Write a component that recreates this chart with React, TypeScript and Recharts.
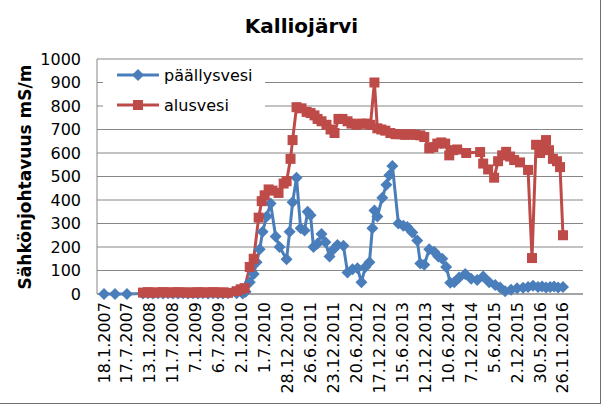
import React from 'react';
import { LineChart, Line, XAxis, YAxis, CartesianGrid } from 'recharts';

// tick labels of the date axis (every 180 days)
const xTickLabels = [
  '18.1.2007', '17.7.2007', '13.1.2008', '11.7.2008', '7.1.2009', '6.7.2009', '2.1.2010',
  '1.7.2010', '28.12.2010', '26.6.2011', '23.12.2011', '20.6.2012', '17.12.2012', '15.6.2013',
  '12.12.2013', '10.6.2014', '7.12.2014', '5.6.2015', '2.12.2015', '30.5.2016', '26.11.2016',
];
const yTicks = [0, 100, 200, 300, 400, 500, 600, 700, 800, 900, 1000];

// päällysvesi (surface water)
const surfaceDates = [
  '18.1.2007', '14.4.2007', '17.7.2007',
  '20.11.2007', '29.12.2007', '6.2.2008', '17.3.2008', '25.4.2008', '3.6.2008', '12.7.2008', '20.8.2008', '29.9.2008',
  '7.11.2008', '16.12.2008', '24.1.2009', '4.3.2009', '13.4.2009', '22.5.2009', '30.6.2009', '8.8.2009', '17.9.2009',
  '23.11.2009', '10.1.2010', '2.2.2010', '6.3.2010', '6.4.2010', '29.4.2010', '23.5.2010', '15.6.2010', '17.7.2010',
  '17.8.2010', '25.9.2010', '26.10.2010', '20.12.2010', '13.1.2011', '5.2.2011', '8.3.2011', '9.4.2011', '10.5.2011',
  '3.6.2011', '26.6.2011', '19.7.2011', '20.8.2011', '20.9.2011', '21.10.2011', '22.11.2011', '23.12.2011', '23.1.2012',
  '10.3.2012', '11.4.2012', '20.5.2012', '28.6.2012', '29.7.2012', '29.8.2012', '30.9.2012', '23.10.2012', '8.11.2012',
  '1.12.2012', '9.1.2013', '10.2.2013', '5.3.2013', '29.3.2013', '15.5.2013', '23.6.2013', '24.7.2013', '1.9.2013',
  '10.10.2013', '3.11.2013', '4.12.2013', '12.1.2014', '20.2.2014', '24.3.2014', '24.4.2014', '25.5.2014', '26.6.2014',
  '27.7.2014', '4.9.2014', '21.10.2014', '7.12.2014', '23.1.2015', '11.3.2015', '27.4.2015', '13.6.2015', '22.7.2015',
  '30.8.2015', '16.10.2015', '2.12.2015', '18.1.2016', '26.2.2016', '5.4.2016', '14.5.2016', '15.6.2016', '16.7.2016',
  '17.8.2016', '17.9.2016', '19.10.2016', '26.11.2016',
];
const surfaceValues = [
  0, 0, 0,
  2, 3, 2, 3, 2, 3, 2, 2, 3,
  2, 3, 2, 3, 2, 3, 2, 2, 3,
  3, 2, 10, 50, 85, 135, 190, 265, 330,
  385, 245, 200, 148, 265, 390, 495, 280, 270,
  350, 335, 200, 215, 255, 220, 160, 190, 208,
  205, 92, 105, 110, 50, 115, 135, 280, 355,
  330, 410, 465, 505, 545, 300, 290, 285, 262,
  228, 130, 125, 190, 180, 160, 150, 115, 48,
  50, 70, 85, 65, 60, 75, 50, 38, 28,
  12, 18, 25, 27, 30, 35, 30, 32, 28,
  30, 32, 28, 30,
];

// alusvesi (bottom water)
const bottomDates = [
  '20.11.2007', '29.12.2007', '6.2.2008', '17.3.2008', '25.4.2008', '3.6.2008', '12.7.2008', '20.8.2008', '29.9.2008',
  '7.11.2008', '16.12.2008', '24.1.2009', '4.3.2009', '13.4.2009', '22.5.2009', '30.6.2009', '8.8.2009', '17.9.2009',
  '23.11.2009', '25.12.2009', '25.1.2010', '6.3.2010', '6.4.2010', '15.5.2010', '8.6.2010', '1.7.2010', '1.8.2010',
  '1.9.2010', '18.10.2010', '27.11.2010', '20.12.2010', '20.1.2011', '5.2.2011', '8.3.2011', '16.4.2011', '26.5.2011',
  '26.6.2011', '27.7.2011', '20.8.2011', '20.9.2011', '29.10.2011', '30.11.2011', '31.12.2011', '31.1.2012', '2.3.2012',
  '11.4.2012', '12.5.2012', '20.6.2012', '29.7.2012', '6.9.2012', '8.10.2012', '8.11.2012', '1.12.2012', '1.1.2013',
  '2.2.2013', '13.3.2013', '22.4.2013', '31.5.2013', '8.7.2013', '17.8.2013', '25.9.2013', '3.11.2013', '4.12.2013',
  '12.1.2014', '13.2.2014', '16.3.2014', '16.4.2014', '17.5.2014', '18.6.2014', '19.7.2014', '19.8.2014', '29.10.2014',
  '15.2.2015', '11.3.2015', '19.4.2015', '5.6.2015', '6.7.2015', '7.8.2015', '7.9.2015', '8.10.2015', '9.11.2015',
  '25.12.2015', '26.2.2016', '28.3.2016', '29.4.2016', '30.5.2016', '22.6.2016', '16.7.2016', '8.8.2016', '8.9.2016',
  '10.10.2016', '3.11.2016', '26.11.2016',
];
const bottomValues = [
  6, 8, 5, 7, 8, 6, 7, 8, 6,
  7, 5, 8, 6, 7, 8, 6, 7, 5,
  12, 20, 25, 115, 150, 325, 395, 420, 445,
  440, 430, 470, 480, 575, 655, 795, 790, 775,
  770, 760, 745, 735, 720, 700, 685, 745, 745,
  735, 725, 720, 725, 725, 720, 900, 705, 700,
  695, 685, 680, 680, 677, 680, 677, 675, 668,
  620, 625, 640, 645, 640, 590, 612, 615, 600,
  604, 555, 530, 495, 565, 590, 605, 585, 570,
  560, 528, 153, 635, 600, 620, 655, 612, 575,
  565, 540, 250,
];

const DAY = 86400000;
const BLUE = '#4A7EBB';
const RED = '#BE4B48';
const FONT = 'DejaVu Sans, Verdana, sans-serif';

const toTime = (s: string) => {
  const [d, m, y] = s.split('.').map(Number);
  return Date.UTC(y, m - 1, d);
};
const fmtDate = (t: number) => {
  const d = new Date(t);
  return `${d.getUTCDate()}.${d.getUTCMonth() + 1}.${d.getUTCFullYear()}`;
};

const tickTimes = xTickLabels.map(toTime);
const xMin = tickTimes[0] - 55 * DAY;
const xMax = tickTimes[0] + 3757 * DAY;

// merge both series on one time axis
const rowMap: Record<number, { t: number; surface?: number; bottom?: number }> = {};
surfaceDates.forEach((s, i) => {
  const t = toTime(s);
  rowMap[t] = { ...(rowMap[t] || { t }), surface: surfaceValues[i] };
});
bottomDates.forEach((s, i) => {
  const t = toTime(s);
  rowMap[t] = { ...(rowMap[t] || { t }), bottom: bottomValues[i] };
});
const rows = Object.values(rowMap).sort((a, b) => a.t - b.t);

const Diamond = (props: any) => {
  const { cx, cy, value, index } = props;
  if (value == null || cy == null) return <g key={`d${index}`} />;
  const r = 6;
  return (
    <polygon key={`d${index}`} points={`${cx},${cy - r} ${cx + r},${cy} ${cx},${cy + r} ${cx - r},${cy}`} fill={BLUE} />
  );
};

const Square = (props: any) => {
  const { cx, cy, value, index } = props;
  if (value == null || cy == null) return <g key={`s${index}`} />;
  return <rect key={`s${index}`} x={cx - 5} y={cy - 5} width={10} height={10} fill={RED} />;
};

const DateTick = (props: any) => {
  const { x, y, payload } = props;
  return (
    <text
      x={x}
      y={y}
      transform={`rotate(-90 ${x} ${y})`}
      textAnchor="end"
      dx={-2}
      dy={5.5}
      fontSize={16}
      fontFamily={FONT}
      fill="#000"
    >
      {fmtDate(payload.value)}
    </text>
  );
};

export default function App() {
  return (
    <div style={{ position: 'absolute', left: 0, top: 0, width: 603, height: 406, background: '#fff', fontFamily: FONT }}>
      <LineChart width={603} height={406} data={rows} margin={{ top: 59, right: 20, bottom: 0, left: 0 }}>
        <CartesianGrid vertical={false} stroke="#868686" />
        <XAxis
          type="number"
          dataKey="t"
          domain={[xMin, xMax]}
          ticks={tickTimes}
          interval={0}
          tick={<DateTick />}
          tickLine={false}
          tickSize={0}
          tickMargin={6}
          axisLine={{ stroke: '#868686' }}
          height={112}
          allowDataOverflow
        />
        <YAxis
          domain={[0, 1000]}
          ticks={yTicks}
          interval={0}
          width={97}
          tickLine={false}
          tickSize={0}
          tickMargin={16}
          axisLine={{ stroke: '#868686' }}
          tick={{ fill: '#000', fontSize: 16, fontFamily: FONT }}
        />
        <Line
          dataKey="surface"
          stroke={BLUE}
          strokeWidth={3}
          connectNulls
          dot={Diamond}
          activeDot={false}
          isAnimationActive={false}
        />
        <Line
          dataKey="bottom"
          stroke={RED}
          strokeWidth={3}
          connectNulls
          dot={Square}
          activeDot={false}
          isAnimationActive={false}
        />
      </LineChart>

      {/* frame */}
      <div style={{ position: 'absolute', left: 0, top: 0, width: 600, height: 403, borderRight: '1px solid #6e6e6e', borderBottom: '1px solid #6e6e6e', pointerEvents: 'none' }} />

      {/* title */}
      <div style={{ position: 'absolute', left: 0, top: 14, width: 603, textAlign: 'center', fontSize: 20, fontWeight: 'bold', color: '#000' }}>
        Kalliojärvi
      </div>

      {/* y-axis title */}
      <div
        style={{
          position: 'absolute',
          left: 25,
          top: 177,
          transform: 'translate(-50%, -50%) rotate(-90deg)',
          whiteSpace: 'nowrap',
          fontSize: 17,
          fontWeight: 'bold',
          color: '#000',
        }}
      >
        Sähkönjohtavuus mS/m
      </div>

      {/* legend */}
      <div style={{ position: 'absolute', left: 103, top: 62, width: 162, height: 63, background: '#fff', fontSize: 16, color: '#000' }}>
        <div style={{ position: 'absolute', left: 12, top: 3, display: 'flex', alignItems: 'center' }}>
          <svg width={46} height={20}>
            <line x1={2} y1={10} x2={44} y2={10} stroke={BLUE} strokeWidth={3} />
            <polygon points="23,4 29,10 23,16 17,10" fill={BLUE} />
          </svg>
          <span style={{ marginLeft: 3 }}>päällysvesi</span>
        </div>
        <div style={{ position: 'absolute', left: 12, top: 33, display: 'flex', alignItems: 'center' }}>
          <svg width={46} height={20}>
            <line x1={2} y1={10} x2={44} y2={10} stroke={RED} strokeWidth={3} />
            <rect x={18} y={5} width={10} height={10} fill={RED} />
          </svg>
          <span style={{ marginLeft: 3 }}>alusvesi</span>
        </div>
      </div>
    </div>
  );
}
